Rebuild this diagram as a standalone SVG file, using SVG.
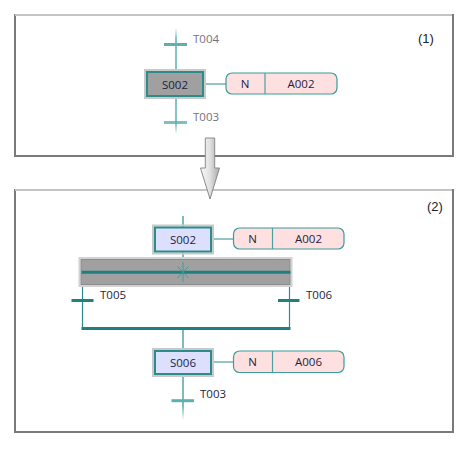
<svg xmlns="http://www.w3.org/2000/svg" width="461" height="454" viewBox="0 0 461 454">
<defs>
<style>
.frameL{fill:#fff;stroke:#7a7a7a;stroke-width:2}
.frameT{stroke:#c4c4c4;stroke-width:2}
.txt{font-family:"Open Sans","Noto Sans",sans-serif;font-size:11.5px;fill:#1e1e3c}
.lbl{font-family:"Liberation Sans",Arial,sans-serif;font-size:13px;fill:#222}
.faint{fill:#72727e}
.halo{fill:none;stroke:#c9c9c9;stroke-width:2}
.step{stroke:#2b8c8c;stroke-width:2}
.act{fill:#ffe0e0;stroke:#3a9c9c;stroke-width:1.2}
.lnk{stroke:#4aa0a0;stroke-width:1.2;fill:none}
.ln{stroke:#2b8c8c;stroke-width:1.2;fill:none}
.bar{stroke:#1f8080;stroke-width:3}
.barL{stroke:#5cb0b0;stroke-width:3}
</style>
<linearGradient id="fadeTop" gradientUnits="userSpaceOnUse" x1="0" y1="28" x2="0" y2="134">
<stop offset="0" stop-color="#5cb0b0" stop-opacity="0"/>
<stop offset="0.1" stop-color="#5cb0b0"/>
<stop offset="0.9" stop-color="#5cb0b0"/>
<stop offset="1" stop-color="#5cb0b0" stop-opacity="0"/>
</linearGradient>
<linearGradient id="fadeBot" gradientUnits="userSpaceOnUse" x1="0" y1="374" x2="0" y2="420">
<stop offset="0" stop-color="#2b8c8c"/>
<stop offset="0.7" stop-color="#2b8c8c"/>
<stop offset="1" stop-color="#2b8c8c" stop-opacity="0"/>
</linearGradient>
<linearGradient id="arrowG" x1="0" y1="0" x2="1" y2="0">
<stop offset="0" stop-color="#fafafa"/>
<stop offset="0.5" stop-color="#e0e0e0"/>
<stop offset="1" stop-color="#a8a8a8"/>
</linearGradient>
</defs>

<!-- frames -->
<g id="frame1">
<rect class="frameL" x="15" y="15" width="438" height="141"/>
<line class="frameT" x1="15" y1="15" x2="452" y2="15"/>
<text class="lbl" x="418" y="43">(1)</text>
</g>
<g id="frame2">
<rect class="frameL" x="15" y="190" width="438" height="242"/>
<line class="frameT" x1="15" y1="190" x2="452" y2="190"/>
<text class="lbl" x="427" y="211">(2)</text>
</g>

<!-- connectors -->
<g id="connectors">
<line x1="176" y1="28" x2="176" y2="134" stroke="url(#fadeTop)" stroke-width="1.5"/>
<line class="lnk" x1="203" y1="84" x2="226" y2="84"/>
<line class="ln" x1="183" y1="216" x2="183" y2="272"/>
<line class="lnk" x1="211" y1="239" x2="233" y2="239"/>
<line class="ln" x1="82.5" y1="272" x2="82.5" y2="328"/>
<line class="ln" x1="289.5" y1="272" x2="289.5" y2="328"/>
<line class="ln" x1="183" y1="328" x2="183" y2="351"/>
<line class="lnk" x1="211" y1="362" x2="233" y2="362"/>
<line x1="183" y1="374" x2="183" y2="420" stroke="url(#fadeBot)" stroke-width="1.2"/>
</g>

<!-- top panel nodes -->
<g id="T004_top">
<line class="barL" x1="164" y1="44.5" x2="187" y2="44.5"/>
<text class="txt faint" x="193" y="43">T004</text>
</g>
<g id="S002_top">
<rect class="halo" x="145" y="70" width="60" height="28"/>
<rect class="step" x="147" y="72" width="56" height="24" fill="#a0a0a0"/>
<text class="txt" x="175" y="88.5" text-anchor="middle">S002</text>
</g>
<g id="A002_top">
<rect class="act" x="226" y="73" width="111" height="21" rx="6"/>
<line class="lnk" x1="265" y1="73" x2="265" y2="94"/>
<text class="txt" x="245" y="87.5" text-anchor="middle">N</text>
<text class="txt" x="301" y="88" text-anchor="middle">A002</text>
</g>
<g id="T003_top">
<line class="barL" x1="164" y1="122.5" x2="187" y2="122.5" stroke-opacity="0.8"/>
<text class="txt faint" x="193" y="121">T003</text>
</g>

<!-- transition arrow -->
<g id="arrow">
<path d="M205.3,138 H214.7 V168 H219.5 L210,199 L200.5,168 H205.3 Z" fill="url(#arrowG)" stroke="#8a8a8a" stroke-width="1"/>
</g>

<!-- bottom panel nodes -->
<g id="S002">
<rect class="halo" x="153" y="225.5" width="60" height="28"/>
<rect class="step" x="155" y="227.5" width="56" height="24" fill="#dde0fc"/>
<text class="txt" x="183" y="244" text-anchor="middle">S002</text>
</g>
<g id="A002">
<rect class="act" x="233.5" y="228" width="110.5" height="21" rx="6"/>
<line class="lnk" x1="272.5" y1="228" x2="272.5" y2="249"/>
<text class="txt" x="252.5" y="242.5" text-anchor="middle">N</text>
<text class="txt" x="308.5" y="243" text-anchor="middle">A002</text>
</g>
<g id="divergence">
<rect x="79.5" y="258" width="212" height="28" fill="none" stroke="#d2d2d2" stroke-width="2"/>
<rect x="81" y="259.5" width="209" height="25" fill="#a0a0a0" stroke="#8c8c8c" stroke-width="1"/>
<line class="bar" x1="81.5" y1="272.3" x2="290.5" y2="272.3"/>
<line stroke="#3a9a9a" stroke-width="0.9" x1="183" y1="262" x2="183" y2="282"/>
<line stroke="#3a9a9a" stroke-width="0.9" x1="177.5" y1="266.5" x2="188.5" y2="278"/>
<line stroke="#3a9a9a" stroke-width="0.9" x1="188.5" y1="266.5" x2="177.5" y2="278"/>
</g>
<g id="T005">
<line class="bar" x1="71.5" y1="300.5" x2="93.5" y2="300.5"/>
<text class="txt" x="100" y="299">T005</text>
</g>
<g id="T006">
<line class="bar" x1="278" y1="300.5" x2="299.5" y2="300.5"/>
<text class="txt" x="306" y="299">T006</text>
</g>
<g id="convergence">
<line class="bar" x1="81.5" y1="328.5" x2="290.5" y2="328.5"/>
</g>
<g id="S006">
<rect class="halo" x="153" y="349" width="60" height="27"/>
<rect class="step" x="155" y="351" width="56" height="23" fill="#dde0fc"/>
<text class="txt" x="183" y="367" text-anchor="middle">S006</text>
</g>
<g id="A006">
<rect class="act" x="233.5" y="351" width="110.5" height="21.5" rx="6"/>
<line class="lnk" x1="272.5" y1="351" x2="272.5" y2="372.5"/>
<text class="txt" x="252.5" y="365.5" text-anchor="middle">N</text>
<text class="txt" x="308.5" y="366" text-anchor="middle">A006</text>
</g>
<g id="T003">
<line class="barL" x1="171.5" y1="400.7" x2="194" y2="400.7" stroke="#3a9a9a"/>
<text class="txt" x="200" y="398">T003</text>
</g>
</svg>
